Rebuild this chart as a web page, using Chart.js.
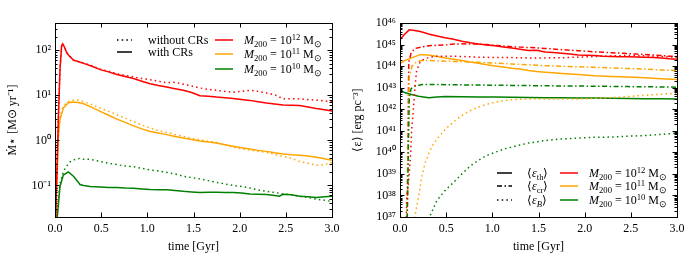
<!DOCTYPE html>
<html><head><meta charset="utf-8">
<script src="https://cdn.jsdelivr.net/npm/chart.js@4/dist/chart.umd.min.js"></script>
<style>
html,body{margin:0;padding:0;background:#fff;}
#wrap{position:relative;width:690px;height:259px;font-family:"Liberation Serif",serif;color:#000;}
canvas{position:absolute;top:0;}
.row{position:absolute;height:14px;font-size:12px;line-height:14px;white-space:nowrap;}
.row sub{font-size:0.72em;vertical-align:-0.3em;line-height:0;}
.row sup{font-size:0.72em;vertical-align:0.5em;line-height:0;}
.sw{position:absolute;}
</style>
</head><body>
<div id="wrap">
<canvas id="c1" width="345" height="259" style="left:0"></canvas>
<canvas id="c2" width="345" height="259" style="left:345px"></canvas>
</div>
<script>
// ---------- tick labels ----------
const xTicks = [0, 0.5, 1.0, 1.5, 2.0, 2.5, 3.0];
const xTickLabels = ['0.0','0.5','1.0','1.5','2.0','2.5','3.0'];
const sfrTicks = [0.1, 1, 10, 100];
const sfrTickLabels = ['10⁻¹','10⁰','10¹','10²'];
const eTicks = [1e37,1e38,1e39,1e40,1e41,1e42,1e43,1e44,1e45,1e46];
const eTickLabels = ['10³⁷','10³⁸','10³⁹','10⁴⁰','10⁴¹','10⁴²','10⁴³','10⁴⁴','10⁴⁵','10⁴⁶'];
const seriesNames = ['M200 = 10^12 Msun','M200 = 10^11 Msun','M200 = 10^10 Msun'];

// ---------- left panel: star formation rate ----------
const t_sfr12 = [0.0,0.01,0.036,0.054,0.072,0.083,0.1,0.127,0.16,0.2,0.25,0.31,0.4,0.49,0.58,0.67,0.76,0.85,0.94,1.03,1.12,1.21,1.3,1.39,1.48,1.57,1.66,1.75,1.84,1.93,2.02,2.11,2.2,2.29,2.38,2.47,2.56,2.65,2.74,2.83,2.92,3.0];
const sfr12_cr   = [0.01,0.03,2.9,37,125,138,120,87,72,60,56,51,44,37,33,29,26,23.5,20.5,18,16.5,15.3,14,12.9,11.5,9.8,9.5,9.1,8.8,8.5,8.1,7.7,7.2,6.7,6.4,6.1,6.0,5.9,5.5,5.1,4.8,4.5];
const sfr12_nocr = [0.01,0.03,3.0,40,128,140,122,90,74,60,56,52,45,38,34,30,27.5,25.5,23.5,22,20.5,18.8,19.5,17.6,16,14.5,13.5,12.9,12.2,11.7,12.2,12.9,12.2,11.2,10.3,8.3,8.4,8.3,8.0,7.8,7.5,7.2];

const t_sfr11 = [0.0,0.01,0.025,0.036,0.054,0.09,0.144,0.2,0.25,0.31,0.4,0.49,0.58,0.67,0.76,0.85,0.94,1.03,1.12,1.21,1.3,1.39,1.48,1.57,1.66,1.75,1.84,1.93,2.02,2.11,2.2,2.29,2.38,2.47,2.56,2.65,2.74,2.83,2.92,3.0];
const sfr11_cr   = [0.01,0.05,0.22,1.2,2.9,5.2,6.8,7.1,6.9,6.5,5.4,4.4,3.6,2.95,2.5,2.1,1.8,1.58,1.45,1.34,1.22,1.13,1.04,0.97,0.92,0.87,0.80,0.74,0.69,0.64,0.60,0.57,0.53,0.50,0.48,0.47,0.45,0.42,0.39,0.36];
const sfr11_nocr = [0.01,0.05,0.25,1.3,3.2,5.8,7.3,7.8,7.8,7.2,6.2,5.2,4.4,3.7,3.1,2.6,2.2,1.87,1.65,1.5,1.35,1.23,1.12,1.03,0.96,0.9,0.8,0.7,0.65,0.61,0.57,0.54,0.49,0.44,0.40,0.34,0.31,0.28,0.29,0.32];

const t_sfr10c = [0.0,0.025,0.054,0.09,0.144,0.2,0.25,0.27,0.31,0.38,0.49,0.58,0.67,0.76,0.85,0.94,1.03,1.12,1.21,1.3,1.39,1.48,1.57,1.66,1.75,1.84,1.93,2.02,2.11,2.2,2.29,2.38,2.43,2.47,2.56,2.65,2.74,2.83,2.92,3.0];
const sfr10_cr   = [0.005,0.02,0.095,0.17,0.2,0.16,0.12,0.105,0.1,0.095,0.092,0.09,0.09,0.088,0.087,0.084,0.081,0.08,0.08,0.077,0.074,0.072,0.07,0.071,0.071,0.07,0.07,0.068,0.065,0.064,0.063,0.06,0.058,0.064,0.062,0.058,0.056,0.054,0.056,0.058];
const t_sfr10n = [0.0,0.025,0.054,0.09,0.12,0.16,0.2,0.27,0.31,0.38,0.49,0.58,0.67,0.76,0.85,0.94,1.03,1.12,1.21,1.3,1.39,1.48,1.57,1.66,1.75,1.84,1.93,2.02,2.11,2.2,2.29,2.38,2.47,2.56,2.65,2.74,2.83,2.92,3.0];
const sfr10_nocr = [0.005,0.03,0.11,0.2,0.26,0.33,0.37,0.4,0.38,0.38,0.34,0.31,0.29,0.27,0.26,0.24,0.22,0.21,0.195,0.18,0.16,0.15,0.14,0.128,0.117,0.108,0.1,0.095,0.088,0.08,0.074,0.07,0.065,0.062,0.058,0.054,0.05,0.047,0.044];

// ---------- right panel: energy densities ----------
const t_eth12 = [0.0,0.05,0.1,0.16,0.22,0.31,0.4,0.49,0.58,0.67,0.76,0.85,0.94,1.03,1.12,1.21,1.3,1.39,1.48,1.57,1.66,1.75,1.84,1.93,2.02,2.11,2.2,2.29,2.38,2.47,2.56,2.65,2.74,2.83,2.92,3.0];
const eth12 = [1.7e45,3.0e45,4.8e45,4.5e45,4.0e45,3.1e45,2.5e45,2.05e45,1.75e45,1.42e45,1.2e45,1.07e45,9.5e44,8.7e44,7.8e44,6.9e44,6.0e44,5.3e44,5.5e44,4.5e44,4.3e44,4.0e44,3.6e44,3.3e44,3.2e44,3.1e44,2.9e44,2.8e44,2.75e44,2.7e44,2.65e44,2.6e44,2.5e44,2.4e44,2.2e44,2.1e44];
const t_ecr12 = [0.0,0.075,0.085,0.095,0.12,0.16,0.22,0.31,0.4,0.49,0.58,0.67,0.76,0.85,0.94,1.03,1.12,1.21,1.3,1.39,1.48,1.57,1.66,1.75,1.84,1.93,2.02,2.11,2.2,2.29,2.38,2.47,2.56,2.65,2.74,2.83,2.92,3.0];
const ecr12 = [1e30,1e36,1e40,1.5e44,4e44,6.5e44,7.5e44,8.8e44,9.2e44,9.6e44,1.05e45,1.08e45,1.07e45,1.05e45,1.0e45,9.2e44,8.5e44,8.0e44,7.6e44,7.3e44,7.0e44,6.6e44,6.2e44,5.8e44,5.5e44,5.2e44,4.9e44,4.6e44,4.4e44,4.2e44,4.0e44,3.8e44,3.6e44,3.5e44,3.3e44,3.1e44,2.9e44,2.8e44];
const t_eB12 = [0.0,0.06,0.072,0.097,0.115,0.126,0.144,0.162,0.18,0.217,0.26,0.31,0.4,0.49,0.67,0.85,1.03,1.21,1.39,1.57,1.75,1.93,2.11,2.29,2.47,2.65,2.83,3.0];
const eB12 = [1e30,1e35,6e37,7e38,8.5e39,1e41,8.7e41,1.05e43,6.2e43,1.5e44,2.1e44,2.5e44,2.9e44,2.9e44,2.8e44,2.6e44,2.5e44,2.5e44,2.4e44,2.4e44,2.45e44,2.6e44,2.8e44,3.0e44,3.1e44,3.0e44,2.8e44,2.6e44];

const t_eth11 = [0.0,0.05,0.126,0.22,0.31,0.4,0.49,0.58,0.67,0.76,0.85,0.94,1.03,1.12,1.21,1.3,1.39,1.48,1.57,1.66,1.75,1.93,2.11,2.29,2.47,2.65,2.83,3.0];
const eth11 = [1.3e44,1.8e44,2.4e44,3.4e44,3.3e44,2.8e44,2.4e44,2.1e44,1.8e44,1.55e44,1.35e44,1.15e44,1.02e44,9e43,8e43,7.3e43,6.2e43,5.6e43,5.2e43,4.9e43,4.6e43,4.1e43,3.6e43,3.3e43,3.1e43,2.9e43,2.6e43,2.4e43];
const t_ecr11 = [0.0,0.075,0.085,0.1,0.13,0.18,0.24,0.31,0.4,0.49,0.67,0.85,1.03,1.21,1.39,1.57,1.75,1.93,2.11,2.29,2.47,2.65,2.83,3.0];
const ecr11 = [1e30,1e36,1e40,3e43,1e44,1.6e44,1.8e44,1.85e44,1.75e44,1.7e44,1.6e44,1.5e44,1.38e44,1.25e44,1.15e44,1.05e44,9.8e43,9.3e43,8.8e43,8.3e43,7.7e43,7.3e43,6.6e43,6.2e43];
const t_eB11 = [0.0,0.12,0.16,0.2,0.235,0.27,0.31,0.36,0.415,0.5,0.6,0.67,0.76,0.85,0.94,1.03,1.12,1.21,1.3,1.39,1.57,1.75,1.93,2.11,2.29,2.47,2.65,2.83,3.0];
const eB11 = [1e30,1e35,1e37,8.5e37,7e38,3e39,8.7e39,2.4e40,5e40,1.3e41,3e41,5.1e41,8.5e41,1.26e42,1.7e42,2.1e42,2.5e42,2.75e42,2.9e42,3e42,3e42,3e42,3e42,3.2e42,3.4e42,3.9e42,4.4e42,5e42,5.5e42];

const t_eth10 = [0.0,0.05,0.126,0.2,0.31,0.4,0.49,0.67,0.85,1.03,1.21,1.39,1.57,1.75,1.93,2.11,2.29,2.47,2.65,2.83,3.0];
const eth10 = [7.4e42,6e42,4.8e42,4e42,3.4e42,3.7e42,3.9e42,3.8e42,3.7e42,3.65e42,3.6e42,3.5e42,3.45e42,3.4e42,3.35e42,3.3e42,3.2e42,3.15e42,3.1e42,3.05e42,3.0e42];
const t_ecr10 = [0.0,0.075,0.09,0.1,0.12,0.16,0.24,0.4,0.67,1.03,1.39,1.75,2.11,2.47,2.83,3.0];
const ecr10 = [1e30,1e36,1e40,3e42,9e42,1.15e43,1.4e43,1.4e43,1.35e43,1.3e43,1.25e43,1.2e43,1.17e43,1.12e43,1.08e43,1.05e43];
const t_eB10 = [0.3,0.32,0.4,0.49,0.58,0.67,0.76,0.85,0.94,1.03,1.12,1.21,1.3,1.39,1.57,1.75,1.93,2.11,2.29,2.47,2.65,2.83,3.0];
const eB10 = [1e36,1e37,5.9e37,1.75e38,4e38,1.0e39,2.3e39,4.3e39,7.2e39,1.0e40,1.4e40,1.75e40,2.2e40,2.7e40,3.5e40,4.2e40,4.6e40,5e40,5.1e40,5.6e40,6e40,6.8e40,7.8e40];

// ---------- styles ----------
const RED = '#ff0000', ORANGE = '#ffa500', GREEN = '#008000';
const DOT = [1.5, 3.2], DASHDOT = [5, 2.5, 1.5, 2.5];
const FONT = 'Liberation Serif, "Times New Roman", serif';

function pts(t, v){ return t.map((x,i)=>({x:x, y:v[i]})); }
function ds(label, t, v, color, dash){
  return {label:label, data:pts(t,v), borderColor:color, backgroundColor:color,
    borderWidth:1.5, borderDash:dash||[], pointRadius:0, tension:0, fill:false};
}

const frameTicks = {
  id:'frameTicks',
  afterDraw(chart){
    const ctx = chart.ctx, a = chart.chartArea;
    const xs = chart.scales.x, ys = chart.scales.y;
    ctx.save();
    ctx.strokeStyle = '#000'; ctx.lineWidth = 1;
    ctx.beginPath();
    // x major ticks (bottom and top, inward)
    xTicks.forEach(v=>{
      const p = Math.round(xs.getPixelForValue(v)) + 0.5;
      ctx.moveTo(p, a.bottom); ctx.lineTo(p, a.bottom-4.5);
      ctx.moveTo(p, a.top); ctx.lineTo(p, a.top+4.5);
    });
    // y log ticks (left and right, inward)
    const lo = Math.floor(Math.log10(ys.min)), hi = Math.ceil(Math.log10(ys.max));
    for(let d=lo; d<=hi; d++){
      for(let k=1;k<=9;k++){
        const v = k*Math.pow(10,d);
        if(v < ys.min*0.999 || v > ys.max*1.001) continue;
        const p = Math.round(ys.getPixelForValue(v)) + 0.5;
        const L = k===1 ? 4.5 : 2.5;
        ctx.moveTo(a.left, p); ctx.lineTo(a.left+L, p);
        ctx.moveTo(a.right, p); ctx.lineTo(a.right-L, p);
      }
    }
    ctx.stroke();
    ctx.strokeRect(Math.round(a.left)+0.5, Math.round(a.top)+0.5, Math.round(a.right-a.left), Math.round(a.bottom-a.top));
    ctx.restore();
  }
};

function makeChart(id, datasets, yMin, yMax, yT, yL, yTitle){
  return new Chart(document.getElementById(id), {
    type:'line',
    data:{datasets:datasets},
    options:{
      responsive:false, animation:false, devicePixelRatio:1,
      layout:{padding:{left:0, right:13, top:23, bottom:0}},
      plugins:{legend:{display:false}, tooltip:{enabled:false}},
      scales:{
        x:{type:'linear', min:0, max:3,
          afterBuildTicks: s => { s.ticks = xTicks.map(v=>({value:v})); },
          afterFit: s => { s.height = 42; },
          grid:{display:false, drawTicks:false}, border:{display:false},
          ticks:{autoSkip:false, maxRotation:0, padding:5, color:'#000',
            font:{family:FONT, size:12}, callback:(v,i)=>xTickLabels[i]},
          title:{display:true, text:'time [Gyr]', color:'#000', font:{family:FONT, size:12}, padding:{top:5,bottom:5}}
        },
        y:{type:'logarithmic', min:yMin, max:yMax,
          afterBuildTicks: s => { s.ticks = yT.map(v=>({value:v})); },
          afterFit: s => { s.width = 55; },
          grid:{display:false, drawTicks:false}, border:{display:false},
          ticks:{autoSkip:false, padding:4, color:'#000',
            font:{family:FONT, size:12}, callback:(v,i)=>yL[i]},
          title:{display:true, text:yTitle, color:'#000', font:{family:FONT, size:12}, padding:{top:6,bottom:6}}
        }
      }
    },
    plugins:[frameTicks]
  });
}

makeChart('c1', [
  ds('without CRs, '+seriesNames[0], t_sfr12, sfr12_nocr, RED, DOT),
  ds('with CRs, '+seriesNames[0], t_sfr12, sfr12_cr, RED),
  ds('without CRs, '+seriesNames[1], t_sfr11, sfr11_nocr, ORANGE, DOT),
  ds('with CRs, '+seriesNames[1], t_sfr11, sfr11_cr, ORANGE),
  ds('without CRs, '+seriesNames[2], t_sfr10n, sfr10_nocr, GREEN, DOT),
  ds('with CRs, '+seriesNames[2], t_sfr10c, sfr10_cr, GREEN)
], 0.02, 400, sfrTicks, sfrTickLabels, 'Ṁ⋆ [M⊙ yr⁻¹]');

makeChart('c2', [
  ds('eps_B, '+seriesNames[2], t_eB10, eB10, GREEN, DOT),
  ds('eps_B, '+seriesNames[1], t_eB11, eB11, ORANGE, DOT),
  ds('eps_B, '+seriesNames[0], t_eB12, eB12, RED, DOT),
  ds('eps_cr, '+seriesNames[2], t_ecr10, ecr10, GREEN, DASHDOT),
  ds('eps_cr, '+seriesNames[1], t_ecr11, ecr11, ORANGE, DASHDOT),
  ds('eps_cr, '+seriesNames[0], t_ecr12, ecr12, RED, DASHDOT),
  ds('eps_th, '+seriesNames[2], t_eth10, eth10, GREEN),
  ds('eps_th, '+seriesNames[1], t_eth11, eth11, ORANGE),
  ds('eps_th, '+seriesNames[0], t_eth12, eth12, RED)
], 1e37, 1e46, eTicks, eTickLabels, '⟨ε⟩ [erg pc⁻³]');

// ---------- legends (HTML text) ----------
const wrap = document.getElementById('wrap');
function swatch(x1, x2, y, color, dash){
  const w = x2 - x1;
  const s = document.createElementNS('http://www.w3.org/2000/svg','svg');
  s.setAttribute('class','sw'); s.setAttribute('width', w); s.setAttribute('height', 6);
  s.style.left = x1+'px'; s.style.top = (y-3)+'px';
  const l = document.createElementNS('http://www.w3.org/2000/svg','line');
  l.setAttribute('x1',0); l.setAttribute('x2',w); l.setAttribute('y1',3); l.setAttribute('y2',3);
  l.setAttribute('stroke',color); l.setAttribute('stroke-width',1.5);
  if(dash) l.setAttribute('stroke-dasharray', dash.join(' '));
  s.appendChild(l); wrap.appendChild(s);
}
function text(x, y, html){
  const d = document.createElement('div'); d.className='row';
  d.style.left = x+'px'; d.style.top = (y-7)+'px'; d.innerHTML = html; wrap.appendChild(d);
}
const massHTML = ['<i>M</i><sub>200</sub> = 10<sup>12</sup> M<sub>⊙</sub>',
                  '<i>M</i><sub>200</sub> = 10<sup>11</sup> M<sub>⊙</sub>',
                  '<i>M</i><sub>200</sub> = 10<sup>10</sup> M<sub>⊙</sub>'];
const colors = [RED, ORANGE, GREEN];
// left legend
swatch(117, 132, 39.5, '#000', DOT); text(148, 39.5, 'without CRs');
swatch(117, 132, 52, '#000'); text(148, 52, 'with CRs');
[39.5, 54, 68.5].forEach((y,i)=>{ swatch(215, 233, y, colors[i]); text(244, y, massHTML[i]); });
// right legend
const epsHTML = ['⟨<i>ε</i><sub>th</sub>⟩','⟨<i>ε</i><sub>cr</sub>⟩','⟨<i>ε</i><sub><i>B</i></sub>⟩'];
const epsDash = [null, DASHDOT, DOT];
[172.5, 186, 200].forEach((y,i)=>{
  swatch(497, 512, y, '#000', epsDash[i]); text(527, y, epsHTML[i]);
  swatch(560, 578, y, colors[i]); text(589, y, massHTML[i]);
});
</script>
</body></html>
